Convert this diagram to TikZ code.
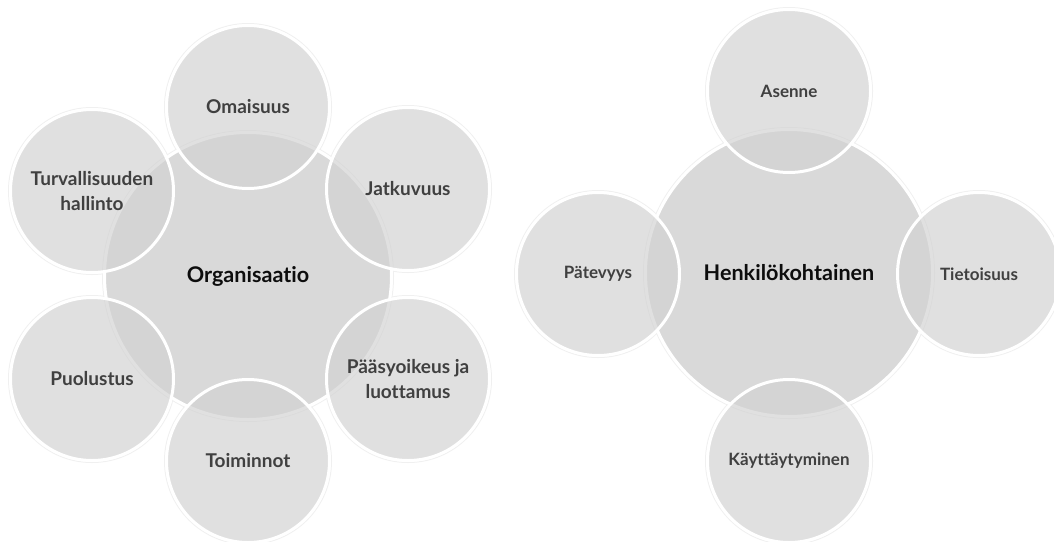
\documentclass[tikz,border=0pt]{standalone}
\usepackage{fontspec}
\setmainfont{Lato}[BoldFont={Lato Bold}, Ligatures=NoCommon]
\definecolor{mainfill}{HTML}{D9D9D9}
\definecolor{smallfill}{HTML}{D2D2D2}
\definecolor{halo}{HTML}{F0F0F0}
\definecolor{labelgray}{HTML}{404040}
\definecolor{hubtext}{HTML}{0D0D0D}
\tikzset{
  x=1pt, y=-1pt,
  hub/.style={circle, fill=mainfill, draw=white, line width=3pt,
    minimum size=287pt, inner sep=0pt, text=hubtext,
    font=\bfseries\fontsize{21.6}{25}\selectfont},
  sat/.style={circle, fill=smallfill, fill opacity=0.68, text opacity=1,
    draw=white, draw opacity=1, line width=3pt, minimum size=163pt,
    inner sep=0pt, align=center, text=labelgray},
  satL/.style={sat, font=\bfseries\fontsize{19}{25.5}\selectfont},
  satR/.style={sat, font=\bfseries\fontsize{17}{20}\selectfont},
  halo/.style={draw=halo, line width=1pt}
}
\begin{document}
\begin{tikzpicture}
\useasboundingbox (0,0) rectangle (1054,541);
\fill[white] (0,0) rectangle (1054,541);
\coordinate (hL) at (248,276);
\coordinate (hR) at (789,273);
\foreach \p in {(248,107),(408,189),(408,379),(248,461),(92,379),(92,191),(789,91),(979,274),(789,461),(598,274)}
  \draw[halo] \p circle[radius=83.5];
\draw[halo] (hL) circle[radius=145.5];
\draw[halo] (hR) circle[radius=145.5];
% left cluster
\node[hub] (org) at (248,276) {Organisaatio};
\node[satL] (oma) at (248,107) {Omaisuus};
\node[satL] (jat) at (408,189) {Jatkuvuus};
\node[satL] (paa) at (408,379) {Pääsyoikeus ja\\luottamus};
\node[satL] (toi) at (248,461) {Toiminnot};
\node[satL] (puo) at (92,379) {Puolustus};
\node[satL] (tur) at (92,191) {Turvallisuuden\\hallinto};
% right cluster
\node[hub] (hen) at (789,273) {Henkilökohtainen};
\node[satR] (ase) at (789,91) {Asenne};
\node[satR] (tie) at (979,274) {Tietoisuus};
\node[satR] (kay) at (789,461) {Käyttäytyminen};
\node[satR] (pat) at (598,274) {Pätevyys};
\end{tikzpicture}
\end{document}
